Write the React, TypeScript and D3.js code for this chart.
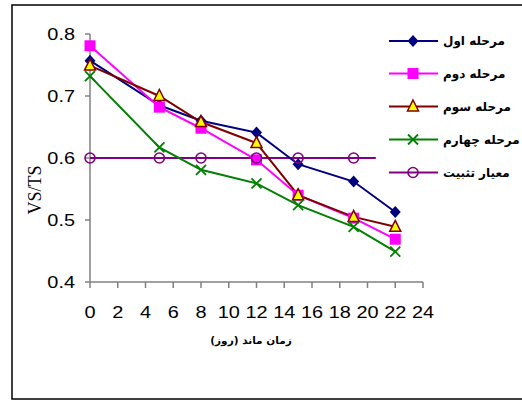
import React from "react";
import * as d3 from "d3";

const days = [0, 5, 8, 12, 15, 19, 22];
const stage1 = [0.757, 0.685, 0.66, 0.641, 0.59, 0.562, 0.513];
const stage2 = [0.781, 0.682, 0.648, 0.597, 0.54, 0.503, 0.469];
const stage3 = [0.749, 0.7, 0.658, 0.624, 0.54, 0.505, 0.489];
const stage4 = [0.732, 0.617, 0.581, 0.559, 0.524, 0.489, 0.449];
const criterionDays = [0, 5, 8, 12, 15, 19];
const criterionValues = [0.6, 0.6, 0.6, 0.6, 0.6, 0.6];
const criterionLineEnd = 20.6;

const xTicks = [0, 2, 4, 6, 8, 10, 12, 14, 16, 18, 20, 22, 24];
const yTicks = [0.4, 0.5, 0.6, 0.7, 0.8];

const seriesNames = ["مرحله اول", "مرحله دوم", "مرحله سوم", "مرحله چهارم", "معیار تثبیت"];
const xTitle = "زمان ماند (روز)";
const yTitle = "VS/TS";

type Marker = "diamond" | "square" | "triangle" | "x" | "circle";

const styles: { color: string; marker: Marker }[] = [
  { color: "#000080", marker: "diamond" },
  { color: "#FF00FF", marker: "square" },
  { color: "#800000", marker: "triangle" },
  { color: "#008000", marker: "x" },
  { color: "#800080", marker: "circle" },
];

function MarkerShape({ type, x, y, color }: { type: Marker; x: number; y: number; color: string }) {
  switch (type) {
    case "diamond":
      return <path d={`M${x},${y - 6}L${x + 5.5},${y}L${x},${y + 6}L${x - 5.5},${y}Z`} fill={color} />;
    case "square":
      return <rect x={x - 5.5} y={y - 5.5} width={11} height={11} fill={color} />;
    case "triangle":
      return (
        <path
          d={`M${x},${y - 6.5}L${x + 5.5},${y + 4.5}L${x - 5.5},${y + 4.5}Z`}
          fill="#FFFF00"
          stroke={color}
          strokeWidth={1.5}
        />
      );
    case "x":
      return (
        <path
          d={`M${x - 5},${y - 5}L${x + 5},${y + 5}M${x - 5},${y + 5}L${x + 5},${y - 5}`}
          stroke={color}
          strokeWidth={1.8}
          fill="none"
        />
      );
    case "circle":
      return <circle cx={x} cy={y} r={5} fill="none" stroke={color} strokeWidth={1.6} />;
  }
}

export default function App() {
  const W = 522;
  const H = 401;
  const x = d3.scaleLinear().domain([0, 24]).range([90, 423]);
  const y = d3.scaleLinear().domain([0.4, 0.8]).range([282, 34]);
  const line = d3
    .line<[number, number]>()
    .x((d) => x(d[0]))
    .y((d) => y(d[1]));

  const data: [number, number][][] = [stage1, stage2, stage3, stage4].map((s) =>
    days.map((d, i) => [d, s[i]] as [number, number])
  );
  const critPts: [number, number][] = criterionDays.map((d, i) => [d, criterionValues[i]]);
  const critLine: [number, number][] = [...critPts, [criterionLineEnd, criterionValues[criterionValues.length - 1]]];

  const num = "'Liberation Sans', Arial, sans-serif";
  const fa = "'DejaVu Sans', 'Liberation Sans', sans-serif";
  const stretch = 1.17;

  const legendY = [41, 73.5, 106.5, 139.5, 172.5];

  return (
    <svg width={W} height={H} style={{ position: "absolute", left: 0, top: 0 }}>
      <rect x={0} y={0} width={W} height={H} fill="#fff" />
      <rect x={12} y={5} width={520} height={394} fill="none" stroke="#000" strokeWidth={1.5} />

      {/* axes */}
      <line x1={x(0)} x2={x(0)} y1={y(0.8)} y2={y(0.4)} stroke="#808080" strokeWidth={1.5} />
      <line x1={x(0)} x2={x(24)} y1={y(0.4)} y2={y(0.4)} stroke="#808080" strokeWidth={1.5} />
      {yTicks.map((t) => (
        <g key={"y" + t}>
          <line x1={x(0) - 5} x2={x(0)} y1={y(t)} y2={y(t)} stroke="#808080" strokeWidth={1.5} />
          <text
            transform={`translate(75,${y(t) + 6}) scale(${stretch},1)`}
            textAnchor="end"
            fontFamily={num}
            fontSize={17}
            fill="#000"
          >
            {t.toFixed(1)}
          </text>
        </g>
      ))}
      {xTicks.map((t) => (
        <g key={"x" + t}>
          <line x1={x(t)} x2={x(t)} y1={y(0.4)} y2={y(0.4) + 6} stroke="#808080" strokeWidth={1.5} />
          <text
            transform={`translate(${x(t)},318) scale(${stretch},1)`}
            textAnchor="middle"
            fontFamily={num}
            fontSize={17}
            fill="#000"
          >
            {t}
          </text>
        </g>
      ))}

      <text
        x={251}
        y={344}
        textAnchor="middle"
        direction="rtl"
        fontFamily={fa}
        fontWeight="bold"
        fontSize={10.5}
        fill="#000"
      >
        {xTitle}
      </text>
      <text
        transform={`translate(41,190) rotate(-90)`}
        textAnchor="middle"
        fontFamily="'Liberation Serif', 'Times New Roman', serif"
        fontSize={18}
        fill="#000"
      >
        {yTitle}
      </text>

      {/* criterion line */}
      <path d={line(critLine) || ""} fill="none" stroke={styles[4].color} strokeWidth={2} />

      {/* series lines */}
      {data.map((pts, i) => (
        <path key={"l" + i} d={line(pts) || ""} fill="none" stroke={styles[i].color} strokeWidth={2} />
      ))}

      {/* markers */}
      {data.map((pts, i) => (
        <g key={"m" + i}>
          {pts.map((p, j) => (
            <MarkerShape key={j} type={styles[i].marker} x={x(p[0])} y={y(p[1])} color={styles[i].color} />
          ))}
        </g>
      ))}
      {critPts.map((p, j) => (
        <MarkerShape key={"c" + j} type="circle" x={x(p[0])} y={y(p[1])} color={styles[4].color} />
      ))}

      {/* legend */}
      {seriesNames.map((name, i) => (
        <g key={"lg" + i}>
          <line x1={389} x2={438} y1={legendY[i]} y2={legendY[i]} stroke={styles[i].color} strokeWidth={2} />
          <MarkerShape type={styles[i].marker} x={413} y={legendY[i]} color={styles[i].color} />
          <text
            x={443}
            y={legendY[i] + 4}
            textAnchor="start"
            fontFamily={fa}
            fontWeight="bold"
            fontSize={12}
            fill="#000"
          >
            {name}
          </text>
        </g>
      ))}
    </svg>
  );
}
